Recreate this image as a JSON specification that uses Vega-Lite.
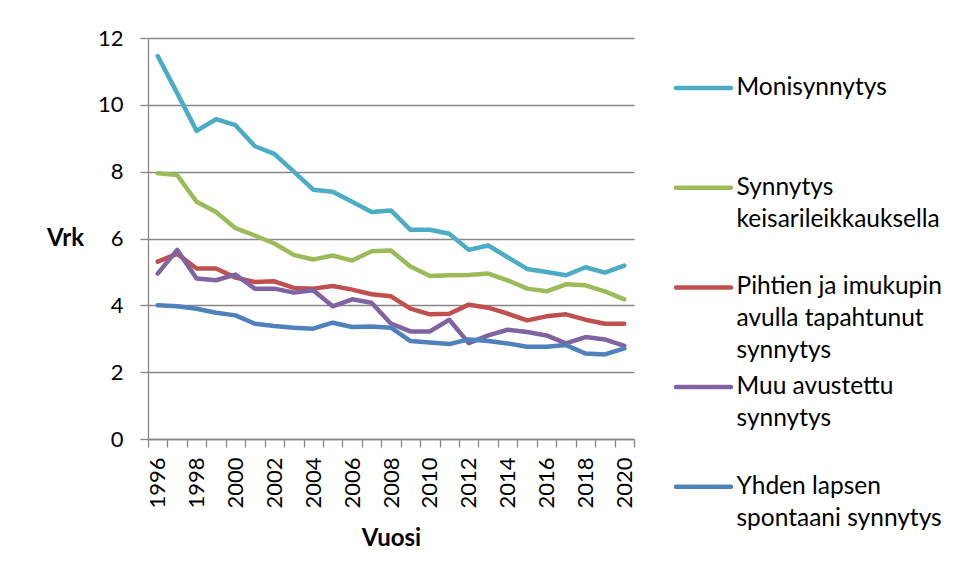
{
  "$schema": "https://vega.github.io/schema/vega-lite/v6.json",
  "width": 486,
  "height": 401,
  "autosize": "none",
  "padding": {"left": 148, "top": 38, "right": 322, "bottom": 139},
  "background": "white",
  "config": {
    "view": {"stroke": null},
    "font": "Lato",
    "axis": {"labelColor": "black", "titleColor": "black", "domainColor": "#868686", "tickColor": "#868686", "gridColor": "#868686", "domainWidth": 1.3, "tickWidth": 1.3, "gridWidth": 1.3}
  },
  "data": {
    "values": [
      {"series": "Monisynnytys", "year": 1996, "value": 11.46},
      {"series": "Monisynnytys", "year": 1997, "value": 10.35},
      {"series": "Monisynnytys", "year": 1998, "value": 9.22},
      {"series": "Monisynnytys", "year": 1999, "value": 9.57},
      {"series": "Monisynnytys", "year": 2000, "value": 9.39},
      {"series": "Monisynnytys", "year": 2001, "value": 8.76},
      {"series": "Monisynnytys", "year": 2002, "value": 8.53},
      {"series": "Monisynnytys", "year": 2003, "value": 8.0},
      {"series": "Monisynnytys", "year": 2004, "value": 7.46},
      {"series": "Monisynnytys", "year": 2005, "value": 7.40},
      {"series": "Monisynnytys", "year": 2006, "value": 7.10},
      {"series": "Monisynnytys", "year": 2007, "value": 6.79},
      {"series": "Monisynnytys", "year": 2008, "value": 6.84},
      {"series": "Monisynnytys", "year": 2009, "value": 6.26},
      {"series": "Monisynnytys", "year": 2010, "value": 6.26},
      {"series": "Monisynnytys", "year": 2011, "value": 6.14},
      {"series": "Monisynnytys", "year": 2012, "value": 5.66},
      {"series": "Monisynnytys", "year": 2013, "value": 5.79},
      {"series": "Monisynnytys", "year": 2014, "value": 5.44},
      {"series": "Monisynnytys", "year": 2015, "value": 5.09},
      {"series": "Monisynnytys", "year": 2016, "value": 5.0},
      {"series": "Monisynnytys", "year": 2017, "value": 4.90},
      {"series": "Monisynnytys", "year": 2018, "value": 5.14},
      {"series": "Monisynnytys", "year": 2019, "value": 4.98},
      {"series": "Monisynnytys", "year": 2020, "value": 5.19},
      {"series": "Synnytys keisarileikkauksella", "year": 1996, "value": 7.95},
      {"series": "Synnytys keisarileikkauksella", "year": 1997, "value": 7.90},
      {"series": "Synnytys keisarileikkauksella", "year": 1998, "value": 7.10},
      {"series": "Synnytys keisarileikkauksella", "year": 1999, "value": 6.79},
      {"series": "Synnytys keisarileikkauksella", "year": 2000, "value": 6.31},
      {"series": "Synnytys keisarileikkauksella", "year": 2001, "value": 6.09},
      {"series": "Synnytys keisarileikkauksella", "year": 2002, "value": 5.85},
      {"series": "Synnytys keisarileikkauksella", "year": 2003, "value": 5.51},
      {"series": "Synnytys keisarileikkauksella", "year": 2004, "value": 5.37},
      {"series": "Synnytys keisarileikkauksella", "year": 2005, "value": 5.49},
      {"series": "Synnytys keisarileikkauksella", "year": 2006, "value": 5.34},
      {"series": "Synnytys keisarileikkauksella", "year": 2007, "value": 5.62},
      {"series": "Synnytys keisarileikkauksella", "year": 2008, "value": 5.64},
      {"series": "Synnytys keisarileikkauksella", "year": 2009, "value": 5.16},
      {"series": "Synnytys keisarileikkauksella", "year": 2010, "value": 4.88},
      {"series": "Synnytys keisarileikkauksella", "year": 2011, "value": 4.90},
      {"series": "Synnytys keisarileikkauksella", "year": 2012, "value": 4.91},
      {"series": "Synnytys keisarileikkauksella", "year": 2013, "value": 4.95},
      {"series": "Synnytys keisarileikkauksella", "year": 2014, "value": 4.75},
      {"series": "Synnytys keisarileikkauksella", "year": 2015, "value": 4.50},
      {"series": "Synnytys keisarileikkauksella", "year": 2016, "value": 4.42},
      {"series": "Synnytys keisarileikkauksella", "year": 2017, "value": 4.63},
      {"series": "Synnytys keisarileikkauksella", "year": 2018, "value": 4.60},
      {"series": "Synnytys keisarileikkauksella", "year": 2019, "value": 4.42},
      {"series": "Synnytys keisarileikkauksella", "year": 2020, "value": 4.18},
      {"series": "Pihtien ja imukupin avulla tapahtunut synnytys", "year": 1996, "value": 5.31},
      {"series": "Pihtien ja imukupin avulla tapahtunut synnytys", "year": 1997, "value": 5.54},
      {"series": "Pihtien ja imukupin avulla tapahtunut synnytys", "year": 1998, "value": 5.10},
      {"series": "Pihtien ja imukupin avulla tapahtunut synnytys", "year": 1999, "value": 5.10},
      {"series": "Pihtien ja imukupin avulla tapahtunut synnytys", "year": 2000, "value": 4.83},
      {"series": "Pihtien ja imukupin avulla tapahtunut synnytys", "year": 2001, "value": 4.70},
      {"series": "Pihtien ja imukupin avulla tapahtunut synnytys", "year": 2002, "value": 4.72},
      {"series": "Pihtien ja imukupin avulla tapahtunut synnytys", "year": 2003, "value": 4.52},
      {"series": "Pihtien ja imukupin avulla tapahtunut synnytys", "year": 2004, "value": 4.50},
      {"series": "Pihtien ja imukupin avulla tapahtunut synnytys", "year": 2005, "value": 4.58},
      {"series": "Pihtien ja imukupin avulla tapahtunut synnytys", "year": 2006, "value": 4.47},
      {"series": "Pihtien ja imukupin avulla tapahtunut synnytys", "year": 2007, "value": 4.33},
      {"series": "Pihtien ja imukupin avulla tapahtunut synnytys", "year": 2008, "value": 4.27},
      {"series": "Pihtien ja imukupin avulla tapahtunut synnytys", "year": 2009, "value": 3.90},
      {"series": "Pihtien ja imukupin avulla tapahtunut synnytys", "year": 2010, "value": 3.73},
      {"series": "Pihtien ja imukupin avulla tapahtunut synnytys", "year": 2011, "value": 3.75},
      {"series": "Pihtien ja imukupin avulla tapahtunut synnytys", "year": 2012, "value": 4.02},
      {"series": "Pihtien ja imukupin avulla tapahtunut synnytys", "year": 2013, "value": 3.93},
      {"series": "Pihtien ja imukupin avulla tapahtunut synnytys", "year": 2014, "value": 3.75},
      {"series": "Pihtien ja imukupin avulla tapahtunut synnytys", "year": 2015, "value": 3.55},
      {"series": "Pihtien ja imukupin avulla tapahtunut synnytys", "year": 2016, "value": 3.67},
      {"series": "Pihtien ja imukupin avulla tapahtunut synnytys", "year": 2017, "value": 3.73},
      {"series": "Pihtien ja imukupin avulla tapahtunut synnytys", "year": 2018, "value": 3.57},
      {"series": "Pihtien ja imukupin avulla tapahtunut synnytys", "year": 2019, "value": 3.45},
      {"series": "Pihtien ja imukupin avulla tapahtunut synnytys", "year": 2020, "value": 3.45},
      {"series": "Muu avustettu synnytys", "year": 1996, "value": 4.95},
      {"series": "Muu avustettu synnytys", "year": 1997, "value": 5.66},
      {"series": "Muu avustettu synnytys", "year": 1998, "value": 4.80},
      {"series": "Muu avustettu synnytys", "year": 1999, "value": 4.75},
      {"series": "Muu avustettu synnytys", "year": 2000, "value": 4.92},
      {"series": "Muu avustettu synnytys", "year": 2001, "value": 4.50},
      {"series": "Muu avustettu synnytys", "year": 2002, "value": 4.50},
      {"series": "Muu avustettu synnytys", "year": 2003, "value": 4.38},
      {"series": "Muu avustettu synnytys", "year": 2004, "value": 4.45},
      {"series": "Muu avustettu synnytys", "year": 2005, "value": 3.97},
      {"series": "Muu avustettu synnytys", "year": 2006, "value": 4.18},
      {"series": "Muu avustettu synnytys", "year": 2007, "value": 4.08},
      {"series": "Muu avustettu synnytys", "year": 2008, "value": 3.45},
      {"series": "Muu avustettu synnytys", "year": 2009, "value": 3.22},
      {"series": "Muu avustettu synnytys", "year": 2010, "value": 3.22},
      {"series": "Muu avustettu synnytys", "year": 2011, "value": 3.57},
      {"series": "Muu avustettu synnytys", "year": 2012, "value": 2.87},
      {"series": "Muu avustettu synnytys", "year": 2013, "value": 3.10},
      {"series": "Muu avustettu synnytys", "year": 2014, "value": 3.27},
      {"series": "Muu avustettu synnytys", "year": 2015, "value": 3.20},
      {"series": "Muu avustettu synnytys", "year": 2016, "value": 3.10},
      {"series": "Muu avustettu synnytys", "year": 2017, "value": 2.86},
      {"series": "Muu avustettu synnytys", "year": 2018, "value": 3.05},
      {"series": "Muu avustettu synnytys", "year": 2019, "value": 2.98},
      {"series": "Muu avustettu synnytys", "year": 2020, "value": 2.79},
      {"series": "Yhden lapsen spontaani synnytys", "year": 1996, "value": 4.00},
      {"series": "Yhden lapsen spontaani synnytys", "year": 1997, "value": 3.97},
      {"series": "Yhden lapsen spontaani synnytys", "year": 1998, "value": 3.90},
      {"series": "Yhden lapsen spontaani synnytys", "year": 1999, "value": 3.78},
      {"series": "Yhden lapsen spontaani synnytys", "year": 2000, "value": 3.70},
      {"series": "Yhden lapsen spontaani synnytys", "year": 2001, "value": 3.45},
      {"series": "Yhden lapsen spontaani synnytys", "year": 2002, "value": 3.38},
      {"series": "Yhden lapsen spontaani synnytys", "year": 2003, "value": 3.33},
      {"series": "Yhden lapsen spontaani synnytys", "year": 2004, "value": 3.30},
      {"series": "Yhden lapsen spontaani synnytys", "year": 2005, "value": 3.48},
      {"series": "Yhden lapsen spontaani synnytys", "year": 2006, "value": 3.35},
      {"series": "Yhden lapsen spontaani synnytys", "year": 2007, "value": 3.37},
      {"series": "Yhden lapsen spontaani synnytys", "year": 2008, "value": 3.33},
      {"series": "Yhden lapsen spontaani synnytys", "year": 2009, "value": 2.93},
      {"series": "Yhden lapsen spontaani synnytys", "year": 2010, "value": 2.89},
      {"series": "Yhden lapsen spontaani synnytys", "year": 2011, "value": 2.84},
      {"series": "Yhden lapsen spontaani synnytys", "year": 2012, "value": 2.98},
      {"series": "Yhden lapsen spontaani synnytys", "year": 2013, "value": 2.93},
      {"series": "Yhden lapsen spontaani synnytys", "year": 2014, "value": 2.86},
      {"series": "Yhden lapsen spontaani synnytys", "year": 2015, "value": 2.76},
      {"series": "Yhden lapsen spontaani synnytys", "year": 2016, "value": 2.76},
      {"series": "Yhden lapsen spontaani synnytys", "year": 2017, "value": 2.81},
      {"series": "Yhden lapsen spontaani synnytys", "year": 2018, "value": 2.56},
      {"series": "Yhden lapsen spontaani synnytys", "year": 2019, "value": 2.53},
      {"series": "Yhden lapsen spontaani synnytys", "year": 2020, "value": 2.71}
    ]
  },
  "mark": {"type": "line", "strokeWidth": 4.5, "strokeJoin": "round", "strokeCap": "round"},
  "encoding": {
    "x": {
      "field": "year",
      "type": "ordinal",
      "bandPosition": 0.5,
      "scale": {"type": "band", "paddingInner": 0, "paddingOuter": 0},
      "axis": {
        "title": "Vuosi",
        "titleFontSize": 24,
        "titleFontWeight": "bold",
        "titlePadding": 18,
        "labelAngle": -90,
        "labelFontSize": 22,
        "labelPadding": 10,
        "labelOverlap": false,
        "labelExpr": "datum.value % 2 == 0 ? datum.label : ''",
        "tickSize": 8,
        "tickBand": "extent",
        "grid": false
      }
    },
    "y": {
      "field": "value",
      "type": "quantitative",
      "scale": {"domain": [0, 12], "nice": false},
      "axis": {
        "title": "Vrk",
        "titleAngle": 0,
        "titleAlign": "right",
        "titleBaseline": "middle",
        "titlePadding": 14,
        "titleFontSize": 24,
        "titleFontWeight": "bold",
        "labelFontSize": 22,
        "labelPadding": 17,
        "tickSize": 8,
        "values": [0, 2, 4, 6, 8, 10, 12],
        "grid": true
      }
    },
    "color": {
      "field": "series",
      "type": "nominal",
      "scale": {
        "domain": ["Monisynnytys", "Synnytys keisarileikkauksella", "Pihtien ja imukupin avulla tapahtunut synnytys", "Muu avustettu synnytys", "Yhden lapsen spontaani synnytys"],
        "range": ["#4BACC6", "#9BBB59", "#C0504D", "#8064A2", "#4F81BD"]
      },
      "legend": {
        "title": null,
        "orient": "none",
        "legendX": 542,
        "legendY": 36.5,
        "padding": 0,
        "symbolType": "M-2.5,0H2.5",
        "symbolSize": 484,
        "symbolStrokeWidth": 4.5,
        "labelFontSize": 24.5,
        "labelColor": "black",
        "labelBaseline": "top",
        "labelOffset": 19.5,
        "labelLimit": 400,
        "rowPadding": 10.7,
        "labelExpr": "datum.label == 'Monisynnytys' ? ['Monisynnytys', ' ', ' '] : datum.label == 'Synnytys keisarileikkauksella' ? ['Synnytys', 'keisarileikkauksella', ' '] : datum.label == 'Pihtien ja imukupin avulla tapahtunut synnytys' ? ['Pihtien ja imukupin', 'avulla tapahtunut', 'synnytys'] : datum.label == 'Muu avustettu synnytys' ? ['Muu avustettu', 'synnytys', ' '] : ['Yhden lapsen', 'spontaani synnytys', ' ']",
        "encode": {
          "labels": {"update": {"lineHeight": {"value": 32}, "dy": {"value": -12}}},
          "symbols": {"update": {"strokeCap": {"value": "round"}}}
        }
      }
    }
  }
}
